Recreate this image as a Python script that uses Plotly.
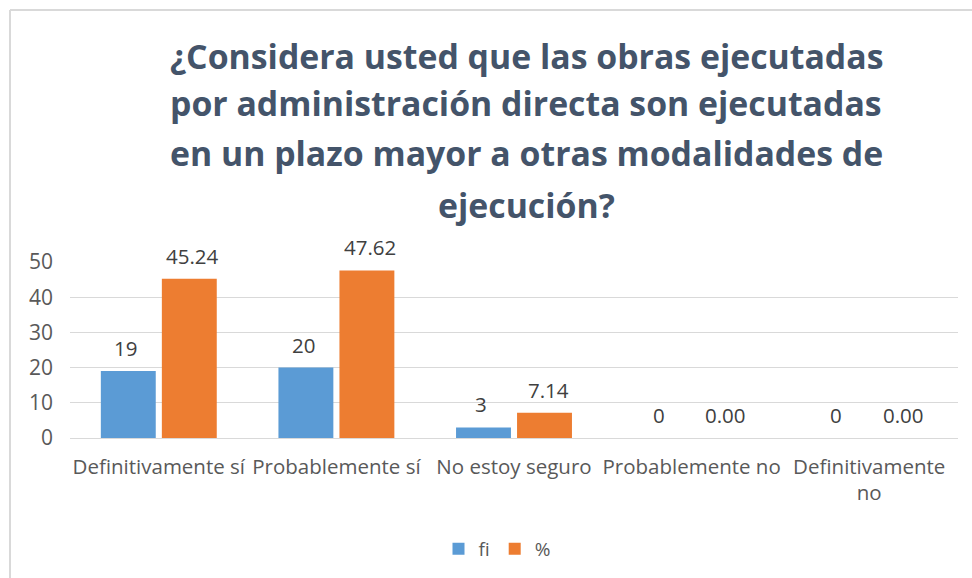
import plotly.graph_objects as go

categories = ["Definitivamente sí", "Probablemente sí", "No estoy seguro",
              "Probablemente no", "Definitivamente<br>no"]
fi_values = [19, 20, 3, 0, 0]
pct_values = [45.24, 47.62, 7.14, 0.00, 0.00]
title_lines = ["¿Considera usted que las obras ejecutadas",
               "por administración directa son ejecutadas",
               "en un plazo mayor a otras modalidades de",
               "ejecución?"]

W, H = 972, 578
L, R, T, B = 70, 14, 262, 140
plot_h = H - T - B
plot_w = W - L - R

FONT = "Open Sans"
BLUE = "#5B9BD5"
ORANGE = "#ED7D31"

fig = go.Figure()
fig.add_bar(name="fi", x=categories, y=fi_values, marker_color=BLUE,
            marker_line_width=0)
fig.add_bar(name="%", x=categories, y=pct_values, marker_color=ORANGE,
            marker_line_width=0)

annotations = []
for c, v in zip(categories, fi_values):
    annotations.append(dict(x=c, y=v, xref="x", yref="y", text=f"{v}",
                            showarrow=False, xshift=-33, yshift=23,
                            font=dict(family=FONT, size=20.5, color="#404040")))
for c, v in zip(categories, pct_values):
    annotations.append(dict(x=c, y=v, xref="x", yref="y", text=f"{v:.2f}",
                            showarrow=False, xshift=34, yshift=23,
                            font=dict(family=FONT, size=20.5, color="#404040")))

title_px = [56, 103, 153, 205]
for line, py in zip(title_lines, title_px):
    annotations.append(dict(x=(526 - L) / plot_w, y=(H - B - py) / plot_h,
                            xref="paper", yref="paper", text=f"<b>{line}</b>",
                            showarrow=False, xanchor="center", yanchor="middle",
                            font=dict(family=FONT, size=33.8, color="#44546A")))

def px_x(p):
    return (p - L) / plot_w

def px_y(p):
    return (H - B - p) / plot_h

shapes = [
    dict(type="line", xref="paper", yref="paper", x0=px_x(10), x1=px_x(975),
         y0=px_y(10), y1=px_y(10), line=dict(color="#D9D9D9", width=2)),
    dict(type="line", xref="paper", yref="paper", x0=px_x(10), x1=px_x(10),
         y0=px_y(10), y1=px_y(580), line=dict(color="#D9D9D9", width=2)),
]

fig.update_layout(
    width=W, height=H,
    margin=dict(l=L, r=R, t=T, b=B, autoexpand=False),
    paper_bgcolor="white", plot_bgcolor="white",
    barmode="group", bargap=0.313, bargroupgap=0.1,
    showlegend=True,
    legend=dict(orientation="h", x=px_x(497), xanchor="center",
                y=px_y(549), yanchor="middle",
                font=dict(family=FONT, size=19, color="#595959"),
                itemwidth=30, traceorder="normal"),
    annotations=annotations,
    shapes=shapes,
    font=dict(family=FONT, color="#595959"),
)
fig.update_xaxes(showgrid=False, showline=True, linecolor="#D9D9D9",
                 linewidth=1, ticks="", ticklabelstandoff=10,
                 tickfont=dict(family=FONT, size=20.5, color="#595959"))
fig.update_yaxes(range=[0, 50], dtick=10, showgrid=True, gridcolor="#D9D9D9",
                 gridwidth=1, zeroline=False, showline=False, ticks="",
                 ticklabelstandoff=16,
                 tickfont=dict(family=FONT, size=21, color="#595959"))

fig.write_html("out.html", config={"displayModeBar": False},
               post_script="document.body.style.margin='0';")
